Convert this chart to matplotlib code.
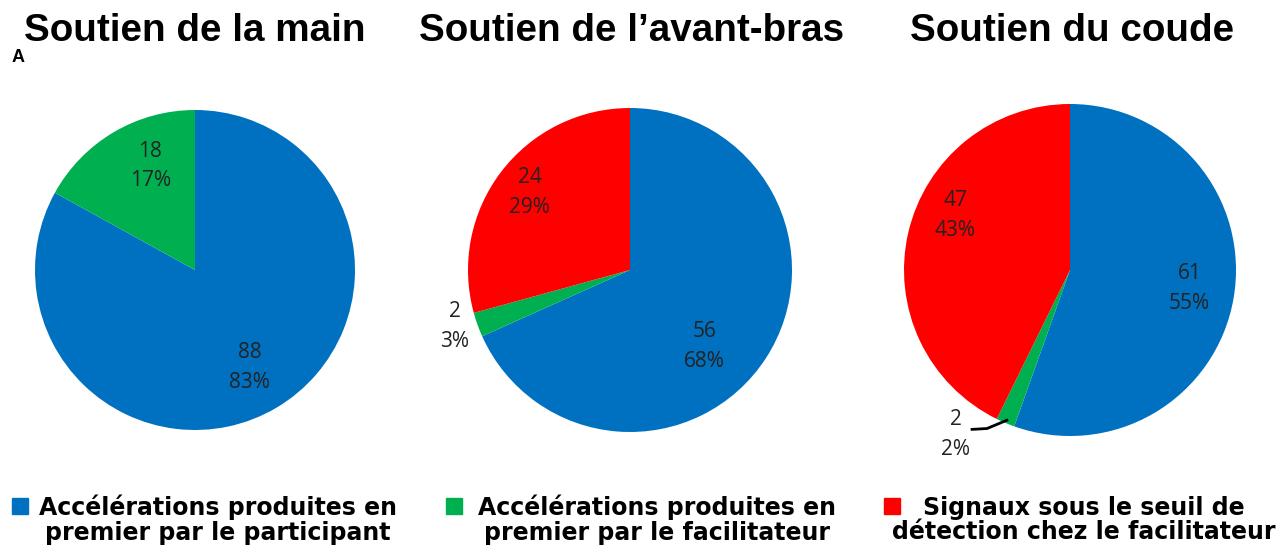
import matplotlib.pyplot as plt
from matplotlib.patches import Rectangle

titles = ["Soutien de la main", "Soutien de l\u2019avant-bras", "Soutien du coude"]
# counts per pie: participant (blue), facilitateur (green), sous seuil (red)
counts = [[88, 18, 0], [56, 2, 24], [61, 2, 47]]
pcts = [["83%", "17%", ""], ["68%", "3%", "29%"], ["55%", "2%", "43%"]]
legend_labels = ["Acc\u00e9l\u00e9rations produites en\npremier par le participant",
                 "Acc\u00e9l\u00e9rations produites en\npremier par le facilitateur",
                 "Signaux sous le seuil de\nd\u00e9tection chez le facilitateur"]
colors = ["#0070C0", "#00B050", "#FF0000"]

W, H = 1280, 549
fig = plt.figure(figsize=(W / 100, H / 100), dpi=100)

# pie centres / radius in pixels
centres = [(195, 270, 160), (630, 270, 162), (1070, 270, 166)]
# label positions in radius units, per wedge
label_xy = [[(0.34, -0.61), (-0.28, 0.65), None],
            [(0.46, -0.47), (-1.08, -0.35), (-0.62, 0.48)],
            [(0.72, -0.11), (-0.69, -0.99), (-0.69, 0.33)]]
title_x = [195, 632, 1072]

for i in range(3):
    cx, cy, r = centres[i]
    ax = fig.add_axes([(cx - r) / W, (H - cy - r) / H, 2 * r / W, 2 * r / H])
    vals = [v for v in counts[i] if v > 0]
    cols = [c for v, c in zip(counts[i], colors) if v > 0]
    ax.pie(vals, colors=cols, startangle=90, counterclock=False,
           wedgeprops=dict(linewidth=0))
    ax.set_xlim(-1, 1)
    ax.set_ylim(-1, 1)
    ax.set_aspect("equal")
    ax.axis("off")
    for j, v in enumerate(counts[i]):
        if v == 0:
            continue
        x, y = label_xy[i][j]
        ax.text(x, y, f"{v}\n{pcts[i][j]}", ha="center", va="center",
                fontsize=15, family="Open Sans", linespacing=1.55,
                clip_on=False, color="#222222")
    fig.text(title_x[i] / W, 1 - 31 / H, titles[i], ha="center", va="center",
             fontsize=27.8, fontweight="bold", family="Liberation Sans")

# leader line for the small green wedge of the last pie
ax.plot([-0.59, -0.5, -0.38], [-0.96, -0.955, -0.905], color="black",
        linewidth=2, clip_on=False)

fig.text(18 / W, 1 - 58 / H, "A", ha="center", va="center", fontsize=13,
         fontweight="bold", family="Liberation Sans")

# legend
sq_x = [12, 446, 884]
tx_x = [218, 657, 1084]
for k in range(3):
    fig.patches.append(Rectangle((sq_x[k] / W, 1 - 514 / H), 16 / W, 16 / H,
                                 transform=fig.transFigure, color=colors[k]))
    fig.text(tx_x[k] / W, 1 - 520 / H, legend_labels[k], ha="center",
             va="center", multialignment="center", fontsize=17,
             fontweight="bold", family="DejaVu Sans", linespacing=1.05)

fig.savefig("out.png", dpi=100, facecolor="white")
